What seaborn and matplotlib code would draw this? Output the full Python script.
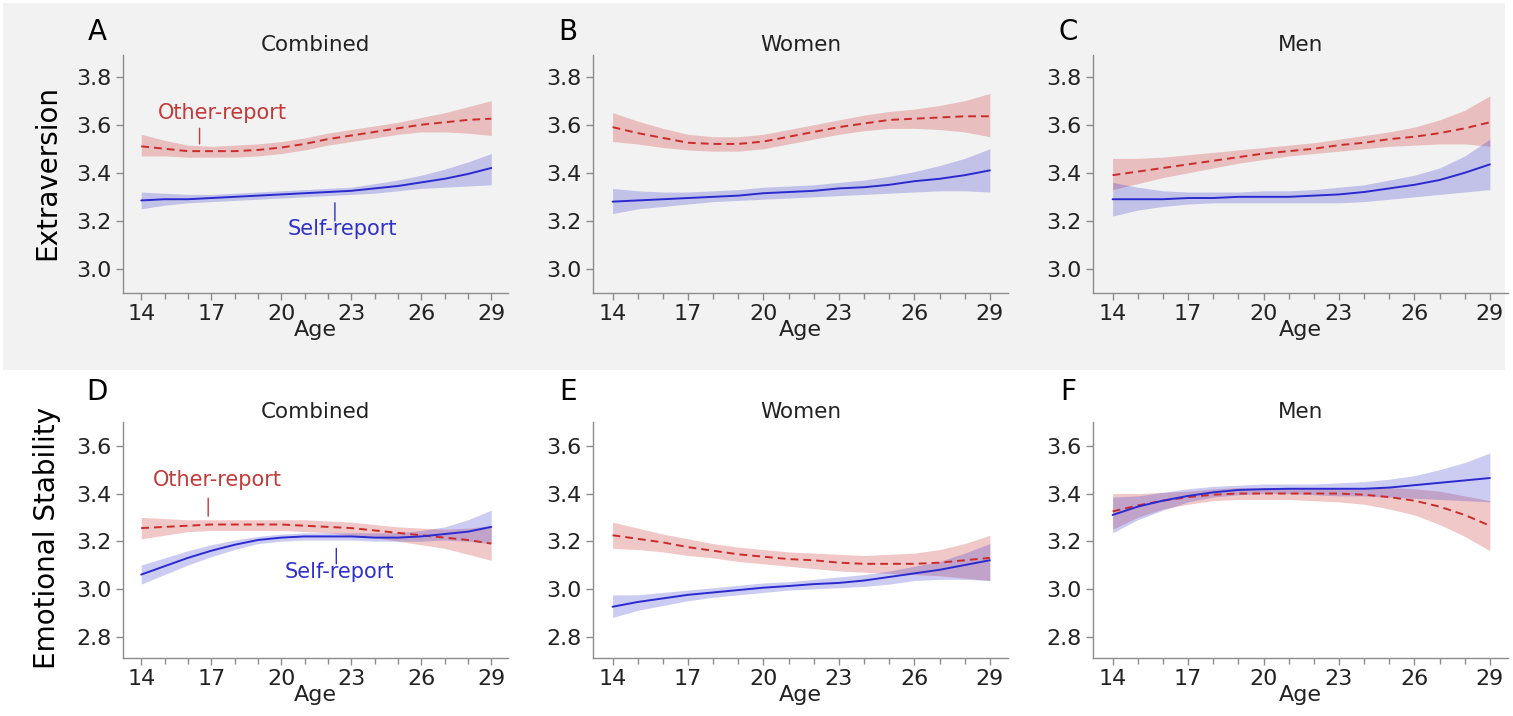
import pandas as pd
import matplotlib
matplotlib.use("Agg")
import matplotlib.pyplot as plt
from matplotlib.patches import Rectangle
from matplotlib.ticker import MultipleLocator, FormatStrFormatter
import seaborn as sns

sns.set_style("ticks")
plt.rcParams["font.family"] = ["DejaVu Sans"]

ages = list(range(14, 30))

# Extraversion, combined
ext_comb_other = [3.51, 3.50, 3.49, 3.49, 3.49, 3.495, 3.505, 3.52, 3.54, 3.555, 3.57, 3.585, 3.60, 3.61, 3.62, 3.625]
ext_comb_other_lo = [3.47, 3.47, 3.465, 3.465, 3.465, 3.47, 3.48, 3.495, 3.515, 3.53, 3.545, 3.56, 3.57, 3.57, 3.565, 3.555]
ext_comb_other_hi = [3.56, 3.535, 3.515, 3.51, 3.515, 3.52, 3.53, 3.545, 3.565, 3.58, 3.595, 3.61, 3.63, 3.65, 3.675, 3.70]
ext_comb_self = [3.285, 3.29, 3.29, 3.295, 3.30, 3.305, 3.31, 3.315, 3.32, 3.325, 3.335, 3.345, 3.36, 3.375, 3.395, 3.42]
ext_comb_self_lo = [3.25, 3.265, 3.275, 3.28, 3.285, 3.29, 3.295, 3.30, 3.305, 3.31, 3.315, 3.325, 3.335, 3.34, 3.345, 3.35]
ext_comb_self_hi = [3.32, 3.315, 3.31, 3.31, 3.315, 3.32, 3.325, 3.33, 3.335, 3.34, 3.355, 3.37, 3.39, 3.415, 3.445, 3.48]

# Extraversion, women
ext_women_other = [3.59, 3.565, 3.545, 3.525, 3.52, 3.52, 3.53, 3.55, 3.57, 3.59, 3.605, 3.62, 3.625, 3.63, 3.635, 3.635]
ext_women_other_lo = [3.53, 3.52, 3.505, 3.495, 3.49, 3.49, 3.50, 3.52, 3.54, 3.56, 3.575, 3.585, 3.585, 3.58, 3.57, 3.55]
ext_women_other_hi = [3.65, 3.615, 3.585, 3.56, 3.55, 3.55, 3.56, 3.58, 3.60, 3.62, 3.64, 3.655, 3.665, 3.68, 3.70, 3.73]
ext_women_self = [3.28, 3.285, 3.29, 3.295, 3.30, 3.305, 3.315, 3.32, 3.325, 3.335, 3.34, 3.35, 3.365, 3.375, 3.39, 3.41]
ext_women_self_lo = [3.23, 3.25, 3.26, 3.27, 3.28, 3.285, 3.29, 3.295, 3.30, 3.305, 3.31, 3.315, 3.32, 3.325, 3.325, 3.32]
ext_women_self_hi = [3.335, 3.325, 3.32, 3.32, 3.325, 3.33, 3.34, 3.345, 3.35, 3.36, 3.37, 3.385, 3.405, 3.43, 3.46, 3.50]

# Extraversion, men
ext_men_other = [3.39, 3.405, 3.42, 3.435, 3.45, 3.465, 3.48, 3.49, 3.50, 3.515, 3.525, 3.54, 3.55, 3.565, 3.585, 3.61]
ext_men_other_lo = [3.33, 3.355, 3.38, 3.40, 3.42, 3.44, 3.455, 3.47, 3.48, 3.49, 3.50, 3.51, 3.515, 3.52, 3.52, 3.51]
ext_men_other_hi = [3.46, 3.46, 3.465, 3.475, 3.485, 3.495, 3.505, 3.515, 3.525, 3.54, 3.555, 3.57, 3.59, 3.62, 3.66, 3.72]
ext_men_self = [3.29, 3.29, 3.29, 3.295, 3.295, 3.30, 3.30, 3.30, 3.305, 3.31, 3.32, 3.335, 3.35, 3.37, 3.40, 3.435]
ext_men_self_lo = [3.22, 3.245, 3.26, 3.27, 3.275, 3.275, 3.275, 3.275, 3.275, 3.275, 3.28, 3.29, 3.30, 3.31, 3.32, 3.33]
ext_men_self_hi = [3.36, 3.34, 3.325, 3.32, 3.32, 3.32, 3.325, 3.325, 3.33, 3.34, 3.35, 3.37, 3.39, 3.42, 3.47, 3.54]

# Emotional stability, combined
emo_comb_other = [3.255, 3.26, 3.265, 3.27, 3.27, 3.27, 3.27, 3.265, 3.26, 3.255, 3.245, 3.235, 3.225, 3.215, 3.205, 3.19]
emo_comb_other_lo = [3.21, 3.225, 3.24, 3.245, 3.245, 3.245, 3.245, 3.24, 3.235, 3.225, 3.215, 3.20, 3.185, 3.17, 3.145, 3.12]
emo_comb_other_hi = [3.30, 3.295, 3.29, 3.29, 3.29, 3.29, 3.29, 3.29, 3.285, 3.28, 3.27, 3.26, 3.255, 3.25, 3.255, 3.265]
emo_comb_self = [3.06, 3.095, 3.13, 3.16, 3.185, 3.205, 3.215, 3.22, 3.22, 3.22, 3.215, 3.215, 3.22, 3.23, 3.24, 3.26]
emo_comb_self_lo = [3.02, 3.06, 3.10, 3.135, 3.165, 3.19, 3.20, 3.205, 3.205, 3.205, 3.20, 3.20, 3.20, 3.205, 3.20, 3.19]
emo_comb_self_hi = [3.10, 3.13, 3.16, 3.185, 3.205, 3.22, 3.23, 3.235, 3.235, 3.235, 3.235, 3.235, 3.245, 3.26, 3.29, 3.33]

# Emotional stability, women
emo_women_other = [3.225, 3.21, 3.195, 3.175, 3.16, 3.145, 3.135, 3.125, 3.12, 3.11, 3.105, 3.105, 3.105, 3.11, 3.12, 3.13]
emo_women_other_lo = [3.17, 3.165, 3.155, 3.14, 3.13, 3.115, 3.105, 3.095, 3.085, 3.075, 3.07, 3.065, 3.06, 3.055, 3.045, 3.035]
emo_women_other_hi = [3.28, 3.255, 3.23, 3.21, 3.19, 3.175, 3.165, 3.155, 3.15, 3.145, 3.14, 3.145, 3.15, 3.165, 3.19, 3.225]
emo_women_self = [2.925, 2.945, 2.96, 2.975, 2.985, 2.995, 3.005, 3.012, 3.02, 3.025, 3.035, 3.05, 3.065, 3.08, 3.10, 3.12]
emo_women_self_lo = [2.88, 2.91, 2.93, 2.95, 2.965, 2.975, 2.985, 2.995, 3.00, 3.005, 3.01, 3.02, 3.035, 3.04, 3.04, 3.035]
emo_women_self_hi = [2.975, 2.975, 2.985, 2.995, 3.005, 3.015, 3.025, 3.03, 3.04, 3.05, 3.06, 3.075, 3.095, 3.115, 3.15, 3.19]

# Emotional stability, men
emo_men_other = [3.325, 3.35, 3.37, 3.385, 3.395, 3.40, 3.40, 3.40, 3.40, 3.40, 3.395, 3.385, 3.37, 3.345, 3.31, 3.265]
emo_men_other_lo = [3.25, 3.30, 3.335, 3.355, 3.37, 3.375, 3.375, 3.375, 3.37, 3.365, 3.355, 3.335, 3.31, 3.27, 3.22, 3.16]
emo_men_other_hi = [3.40, 3.40, 3.405, 3.41, 3.42, 3.425, 3.425, 3.425, 3.425, 3.425, 3.425, 3.425, 3.42, 3.41, 3.39, 3.37]
emo_men_self = [3.31, 3.345, 3.37, 3.39, 3.405, 3.415, 3.418, 3.42, 3.42, 3.42, 3.42, 3.425, 3.435, 3.445, 3.455, 3.465]
emo_men_self_lo = [3.235, 3.29, 3.33, 3.365, 3.385, 3.395, 3.40, 3.40, 3.395, 3.39, 3.39, 3.385, 3.38, 3.375, 3.37, 3.365]
emo_men_self_hi = [3.385, 3.39, 3.405, 3.42, 3.43, 3.435, 3.44, 3.44, 3.44, 3.445, 3.45, 3.46, 3.475, 3.50, 3.53, 3.57]

letters = ["A", "B", "C", "D", "E", "F"]
titles = ["Combined", "Women", "Men", "Combined", "Women", "Men"]
row_labels = ["Extraversion", "Emotional Stability"]
xticks = [14, 17, 20, 23, 26, 29]
yticks_top = [3.0, 3.2, 3.4, 3.6, 3.8]
yticks_bottom = [2.8, 3.0, 3.2, 3.4, 3.6]

RED = "#cc2b2b"
BLUE = "#2a2ad0"
AXCOL = "#8c8c8c"
TXT = "#222222"


def band_frame(lo, mid, hi):
    return pd.DataFrame({"age": ages * 3, "score": list(lo) + list(mid) + list(hi)})


def draw_series(ax, lo, mid, hi, color, ls, alpha):
    sns.lineplot(data=band_frame(lo, mid, hi), x="age", y="score", ax=ax,
                 estimator="median", errorbar=lambda v: (v.min(), v.max()),
                 color=color, linestyle=ls, linewidth=1.4,
                 err_kws={"alpha": alpha, "linewidth": 0})


panels = [
    (ext_comb_other_lo, ext_comb_other, ext_comb_other_hi, ext_comb_self_lo, ext_comb_self, ext_comb_self_hi),
    (ext_women_other_lo, ext_women_other, ext_women_other_hi, ext_women_self_lo, ext_women_self, ext_women_self_hi),
    (ext_men_other_lo, ext_men_other, ext_men_other_hi, ext_men_self_lo, ext_men_self, ext_men_self_hi),
    (emo_comb_other_lo, emo_comb_other, emo_comb_other_hi, emo_comb_self_lo, emo_comb_self, emo_comb_self_hi),
    (emo_women_other_lo, emo_women_other, emo_women_other_hi, emo_women_self_lo, emo_women_self, emo_women_self_hi),
    (emo_men_other_lo, emo_men_other, emo_men_other_hi, emo_men_self_lo, emo_men_self, emo_men_self_hi),
]

fig = plt.figure(figsize=(15.13, 7.16), dpi=100)
fig.patch.set_facecolor("white")
# grey band behind the top row
fig.patches.append(Rectangle((0.002, 0.4832), 0.9927, 0.5126, transform=fig.transFigure,
                             facecolor="#f2f2f2", edgecolor="none", zorder=-5))

lefts = [0.0813, 0.3919, 0.7224]
widths = [0.2545, 0.2743, 0.2743]
bottoms = [0.5908, 0.0810]
heights = [0.3324, 0.3296]
letter_x = [97, 568, 1068]
letter_y = [32, 392]

for i, (olo, omid, ohi, slo, smid, shi) in enumerate(panels):
    row, col = divmod(i, 3)
    ax = fig.add_axes([lefts[col], bottoms[row], widths[col], heights[row]])
    ax.set_facecolor("none")
    draw_series(ax, olo, omid, ohi, RED, (0, (4, 2.6)), 0.26)
    draw_series(ax, slo, smid, shi, BLUE, "-", 0.24)

    ax.set_xlim(13.22, 29.72)
    if row == 0:
        ax.set_ylim(2.9, 3.89)
        ax.set_yticks(yticks_top)
    else:
        ax.set_ylim(2.71, 3.70)
        ax.set_yticks(yticks_bottom)
    ax.yaxis.set_major_formatter(FormatStrFormatter("%.1f"))
    ax.set_xticks(xticks)
    ax.xaxis.set_minor_locator(MultipleLocator(1))
    ax.tick_params(axis="both", which="major", length=5, width=1, color=AXCOL,
                   labelsize=16, labelcolor=TXT, pad=3)
    ax.tick_params(axis="x", which="minor", length=4.5, width=1, color=AXCOL)
    sns.despine(ax=ax)
    for s in ["left", "bottom"]:
        ax.spines[s].set_color(AXCOL)
        ax.spines[s].set_linewidth(1)
    ax.set_xlabel("Age", fontsize=16, color=TXT, labelpad=-3)
    ax.set_ylabel("")
    ax.set_title(titles[i], fontsize=15.5, color=TXT, pad=2)

    fig.text(letter_x[col] / 1513, 1 - letter_y[row] / 716, letters[i], fontsize=20,
             color="black", ha="center", va="center")

    if col == 0:
        if row == 0:
            other_txt, other_tick = (17.47, 3.65), (16.5, 3.585, 3.52)
            self_txt, self_tick = (22.6, 3.165), (22.3, 3.275, 3.20)
        else:
            other_txt, other_tick = (17.26, 3.455), (16.87, 3.38, 3.305)
            self_txt, self_tick = (22.5, 3.07), (22.36, 3.17, 3.105)
        ax.text(*other_txt, "Other-report", color="#c23a3a", fontsize=15, ha="center", va="center")
        ax.annotate("", xy=(other_tick[0], other_tick[2]), xytext=(other_tick[0], other_tick[1]),
                    arrowprops=dict(arrowstyle="-", color="#c23a3a", lw=1.0, shrinkA=0, shrinkB=0))
        ax.text(*self_txt, "Self-report", color="#3030cc", fontsize=15, ha="center", va="center")
        ax.annotate("", xy=(self_tick[0], self_tick[2]), xytext=(self_tick[0], self_tick[1]),
                    arrowprops=dict(arrowstyle="-", color="#3030cc", lw=1.0, shrinkA=0, shrinkB=0))

fig.text(47 / 1513, 1 - 173 / 716, row_labels[0], fontsize=20, rotation=90,
         ha="center", va="center", color="black")
fig.text(47 / 1513, 1 - 538 / 716, row_labels[1], fontsize=20, rotation=90,
         ha="center", va="center", color="black")

fig.savefig("out.png", dpi=100, facecolor="white")
